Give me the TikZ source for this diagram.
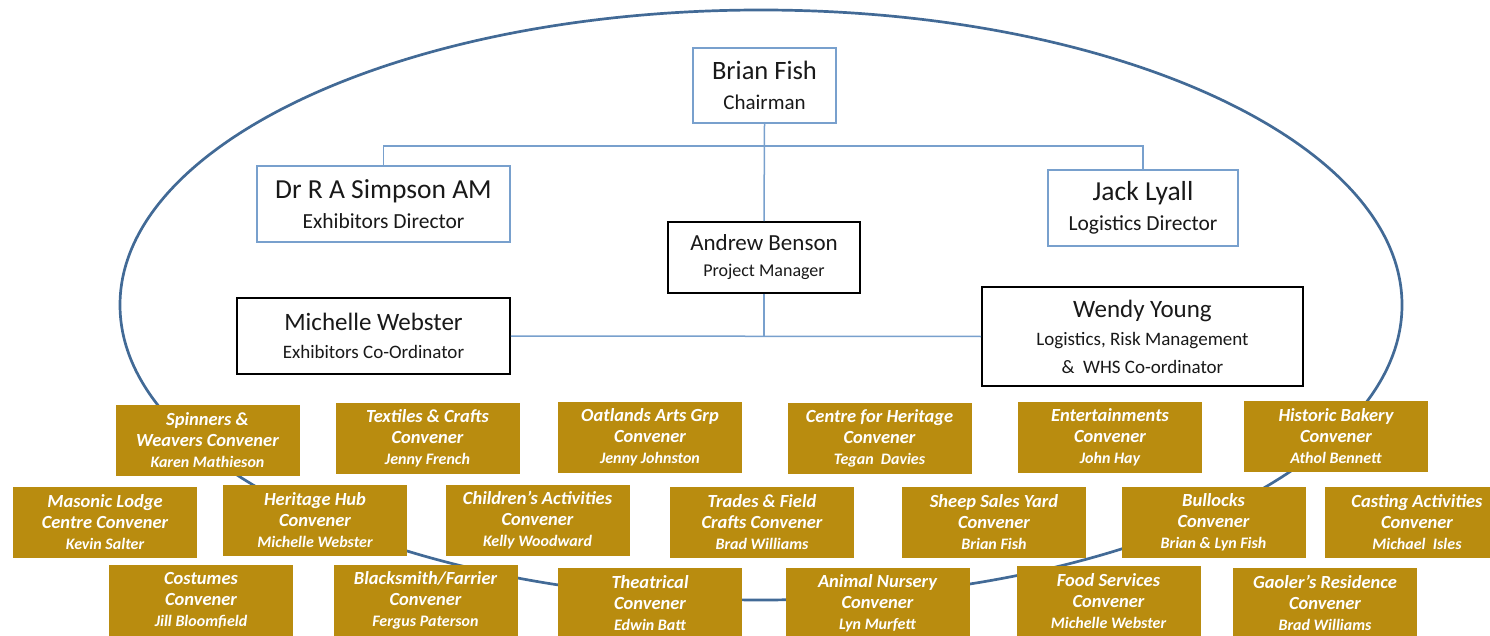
\documentclass[tikz,border=0pt]{standalone}
\usepackage{fontspec}
\setmainfont{Carlito}
\definecolor{ovalblue}{RGB}{66,106,150}
\definecolor{boxblue}{RGB}{120,160,205}
\definecolor{gold}{RGB}{185,140,15}

\begin{document}
\begin{tikzpicture}[x=1pt,y=-1pt,
  lead/.style={draw=boxblue,line width=1.8pt,fill=white,align=center,inner sep=0pt,text=black!90},
  staff/.style={draw=black,line width=1.8pt,fill=white,align=center,inner sep=0pt,text=black!90},
  convener/.style={fill=gold,text=white,align=center,inner sep=0pt,minimum width=184pt,minimum height=71pt,
    font=\bfseries\itshape\fontsize{18.5}{21}\selectfont},
  link/.style={boxblue,line width=1.5pt}]
\path[use as bounding box] (0,0) rectangle (1490,636);
\draw[ovalblue,line width=2.7pt] (761,305) ellipse [x radius=641pt,y radius=295pt];
% committee
\node[lead,minimum width=143pt,minimum height=75pt,font=\fontsize{26.5}{30}\selectfont] (brian) at (764.5,85.5) {Brian Fish\\{\fontsize{21}{30}\selectfont Chairman}};
\node[lead,minimum width=253pt,minimum height=76pt,font=\fontsize{27.5}{30}\selectfont] (simpson) at (383.5,204) {Dr R A Simpson AM\\{\fontsize{21.5}{30}\selectfont Exhibitors Director}};
\node[lead,minimum width=190pt,minimum height=76pt,font=\fontsize{27.5}{30}\selectfont] (jack) at (1143,208) {Jack Lyall\\{\fontsize{21.5}{30}\selectfont Logistics Director}};
\node[staff,minimum width=192pt,minimum height=71pt,font=\fontsize{23}{26}\selectfont] (andrew) at (764,257.5) {Andrew Benson\\{\fontsize{18}{26}\selectfont Project Manager}};
\node[staff,minimum width=273pt,minimum height=76pt,font=\fontsize{25}{28}\selectfont] (michelle) at (373.5,336) {Michelle Webster\\{\fontsize{19}{28}\selectfont Exhibitors Co-Ordinator}};
\node[staff,minimum width=321pt,minimum height=99pt,font=\fontsize{25}{28}\selectfont] (wendy) at (1142.5,336.5) {Wendy Young\\{\fontsize{19}{27}\selectfont Logistics, Risk Management}\\{\fontsize{19}{29}\selectfont \&\ \ WHS Co-ordinator}};
\coordinate (upbus) at (764,146);
\coordinate (lowbus) at (764,336);
\draw[link] (brian.south) -- (andrew.north);
\draw[link] (simpson.north) |- (upbus) -| (jack.north);
\draw[link] (andrew.south) -- (lowbus);
\draw[link] (michelle.east) -- (wendy.west);
% conveners, top row
\node[convener] (spinners) at (207.5,440) {Spinners \&\\Weavers Convener\\{\fontsize{16}{21}\selectfont Karen Mathieson}};
\node[convener] (textiles) at (427.5,438) {Textiles \& Crafts\\Convener\\{\fontsize{16}{21}\selectfont Jenny French}};
\node[convener] (oatlands) at (650,437.5) {Oatlands Arts Grp\\Convener\\{\fontsize{16}{21}\selectfont Jenny Johnston}};
\node[convener] (heritage) at (879.5,438) {Centre for Heritage\\Convener\\{\fontsize{16}{21}\selectfont Tegan\ \ Davies}};
\node[convener] (entertain) at (1110,437) {Entertainments\\Convener\\{\fontsize{16}{21}\selectfont John Hay}};
\node[convener] (bakery) at (1336,436) {Historic Bakery\\Convener\\{\fontsize{16}{21}\selectfont Athol Bennett}};
% conveners, middle row
\node[convener] (masonic) at (105,522) {Masonic Lodge\\Centre Convener\\{\fontsize{16}{21}\selectfont Kevin Salter}};
\node[convener] (hub) at (315,520) {Heritage Hub\\Convener\\{\fontsize{16}{21}\selectfont Michelle Webster}};
\node[convener] (children) at (537.5,520.5) {Children’s Activities\\Convener\\{\fontsize{16}{21}\selectfont Kelly Woodward}};
\node[convener] (trades) at (762,522.5) {Trades \& Field\\Crafts Convener\\{\fontsize{16}{21}\selectfont Brad Williams}};
\node[convener] (sheep) at (994,522.5) {Sheep Sales Yard\\Convener\\{\fontsize{16}{21}\selectfont Brian Fish}};
\node[convener] (bullocks) at (1213.5,522.5) {Bullocks\\Convener\\{\fontsize{16}{21}\selectfont Brian \& Lyn Fish}};
\node[convener] (casting) at (1417,522) {Casting Activities\\Convener\\{\fontsize{16}{21}\selectfont Michael\ \ Isles}};
% conveners, bottom row
\node[convener] (costumes) at (201,600) {Costumes\\Convener\\{\fontsize{16}{21}\selectfont Jill Bloomfield}};
\node[convener] (blacksmith) at (425.5,600) {Blacksmith/Farrier\\Convener\\{\fontsize{16}{21}\selectfont Fergus Paterson}};
\node[convener] (theatrical) at (650,603) {Theatrical\\Convener\\{\fontsize{16}{21}\selectfont Edwin Batt}};
\node[convener] (nursery) at (877.5,603) {Animal Nursery\\Convener\\{\fontsize{16}{21}\selectfont Lyn Murfett}};
\node[convener] (food) at (1108.5,601) {Food Services\\Convener\\{\fontsize{16}{21}\selectfont Michelle Webster}};
\node[convener] (gaoler) at (1325,603) {Gaoler's Residence\\Convener\\{\fontsize{16}{21}\selectfont Brad Williams}};
\end{tikzpicture}
\end{document}
